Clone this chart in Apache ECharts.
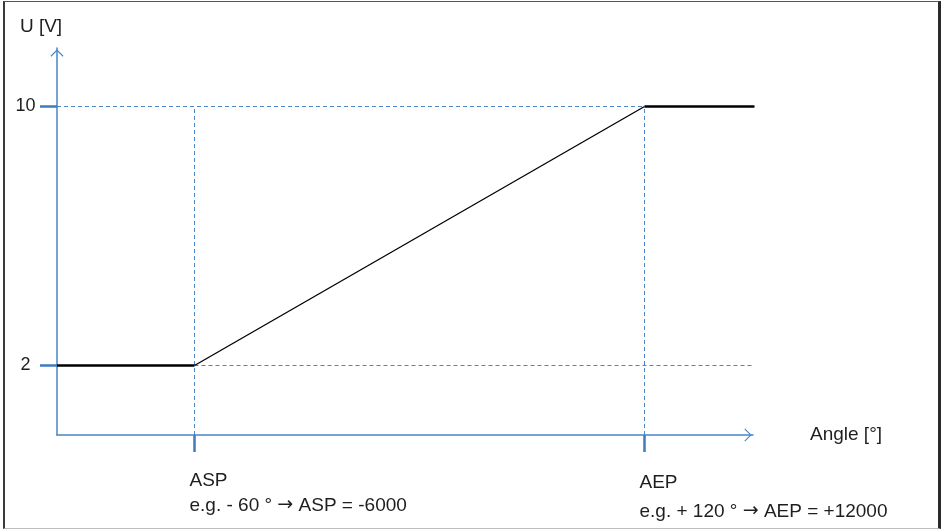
<!DOCTYPE html>
<html>
<head>
<meta charset="utf-8">
<script src="https://cdn.jsdelivr.net/npm/echarts@6/dist/echarts.min.js"></script>
<style>
  html, body { margin: 0; padding: 0; background: #fff; }
  #wrap { position: relative; width: 941px; height: 530px; overflow: hidden; }
  #chart { position: absolute; left: 0; top: 0; width: 941px; height: 530px; }
  #frame { position: absolute; left: 3px; top: 1px; width: 933px; height: 526px;
           border-left: 2px solid #3a3a3a; border-top: 1px solid #555;
           border-right: 3px solid #2a2a2a; border-bottom: 1px solid #bdbdbd; pointer-events: none; }
</style>
</head>
<body>
<div id="wrap"><div id="chart"></div><div id="frame"></div></div>
<script>
// ---- data ----
const aspAngle = -60;          // ASP example angle [deg]
const aepAngle = 120;          // AEP example angle [deg]
const uLow = 2;                // output voltage at / below ASP [V]
const uHigh = 10;              // output voltage at / above AEP [V]
const lineStartAngle = -115;   // left end of the curve (at the U axis)
const lineEndAngle = 164;      // right end of the curve
const xRange = [-115, 163.4];
const yRange = [-0.147, 11.807];
const yTickValues = [2, 10];
const xTickValues = [-60, 120];
const xTickTitles = ['ASP', 'AEP'];
const xTickNotes = ['e.g. - 60 ° \u2192 ASP = -6000', 'e.g. + 120 ° \u2192 AEP = +12000'];
const yAxisName = 'U [V]';
const xAxisName = 'Angle [°]';

// ---- chart ----
const blue = '#4a85c6';
const tickBlue = '#3f7bbd';
const textColor = '#1e1e1e';
const font = 'Liberation Sans, Arial, sans-serif';
const chevron = 'path://M0,0 L10,10 L8.8,11.2 L0,2.4 L-8.8,11.2 L-10,10 Z';

const lowSeg = [[lineStartAngle, uLow], [aspAngle, uLow]];
const rampSeg = [[aspAngle, uLow], [aepAngle, uHigh]];
const highSeg = [[aepAngle, uHigh], [lineEndAngle, uHigh]];
const guideSegs = [
  [[lineStartAngle, uHigh], [aepAngle, uHigh]],
  [[aspAngle, uLow], [xRange[1], uLow]],
  [[aspAngle, yRange[0]], [aspAngle, uHigh]],
  [[aepAngle, yRange[0]], [aepAngle, uHigh]]
];

const guideSeries = guideSegs.map(function (seg, i) {
  return { name: 'guide' + i, type: 'line', data: seg, symbol: 'none', clip: false, z: 1, silent: true,
           lineStyle: { color: blue, width: 1, type: [4, 3] } };
});

const chart = echarts.init(document.getElementById('chart'), null, { renderer: 'canvas' });
chart.setOption({
  animation: false,
  backgroundColor: '#ffffff',
  grid: { left: 57, right: 188, top: 48, bottom: 95, containLabel: false, outerBoundsMode: 'none' },
  xAxis: {
    type: 'value', min: xRange[0], max: xRange[1],
    splitLine: { show: false },
    name: xAxisName, nameLocation: 'end', nameGap: 57,
    nameTextStyle: { fontFamily: font, fontSize: 19, color: textColor, verticalAlign: 'middle', align: 'left', padding: [0, 0, 0, 0] },
    axisLine: { show: true, onZero: false, symbol: ['none', chevron], symbolSize: [13, 10], symbolOffset: [0, -5],
                lineStyle: { color: blue, width: 1.5 } },
    axisTick: { show: true, customValues: xTickValues, length: 17, lineStyle: { color: tickBlue, width: 2.5 } },
    axisLabel: {
      show: true, customValues: xTickValues, margin: 33, align: 'left', verticalAlign: 'top',
      padding: [0, 0, 0, -5],
      fontFamily: font, fontSize: 19, color: textColor,
      formatter: function (v) {
        const i = xTickValues.indexOf(v);
        if (i < 0) return '';
        const k = i === 0 ? 'a' : 'b';
        const note = xTickNotes[i].split('\u2192');
        return '{' + k + '|' + xTickTitles[i] + '}\n{' + k + '|' + note[0] + '}{' + k + 'r|\u2192}{' + k + '|' + note[1] + '}';
      },
      rich: {
        a: { fontFamily: font, fontSize: 19, color: textColor, lineHeight: 25 },
        b: { fontFamily: font, fontSize: 19, color: textColor, lineHeight: 29 },
        ar: { fontFamily: 'DejaVu Sans', fontSize: 19, color: textColor, lineHeight: 25 },
        br: { fontFamily: 'DejaVu Sans', fontSize: 19, color: textColor, lineHeight: 29 }
      }
    }
  },
  yAxis: {
    type: 'value', min: yRange[0], max: yRange[1],
    splitLine: { show: false },
    name: yAxisName, nameLocation: 'end', nameGap: 21,
    nameTextStyle: { fontFamily: font, fontSize: 19, color: textColor, align: 'center', verticalAlign: 'middle', padding: [0, 32, 0, 0] },
    axisLine: { show: true, onZero: false, symbol: ['none', chevron], symbolSize: [13, 10], symbolOffset: [0, -5],
                lineStyle: { color: blue, width: 1.5 } },
    axisTick: { show: true, customValues: yTickValues, length: 17, lineStyle: { color: tickBlue, width: 2.5 } },
    axisLabel: { show: true, customValues: yTickValues, margin: 31.5, align: 'center',
                 fontFamily: font, fontSize: 18, color: textColor }
  },
  series: guideSeries.concat([
    { name: 'low', type: 'line', data: lowSeg, symbol: 'none', clip: false, z: 5,
      lineStyle: { color: '#000', width: 2.5 } },
    { name: 'ramp', type: 'line', data: rampSeg, symbol: 'none', clip: false, z: 5,
      lineStyle: { color: '#000', width: 1.3 } },
    { name: 'high', type: 'line', data: highSeg, symbol: 'none', clip: false, z: 5,
      lineStyle: { color: '#000', width: 2.5 } }
  ])
});
</script>
</body>
</html>
